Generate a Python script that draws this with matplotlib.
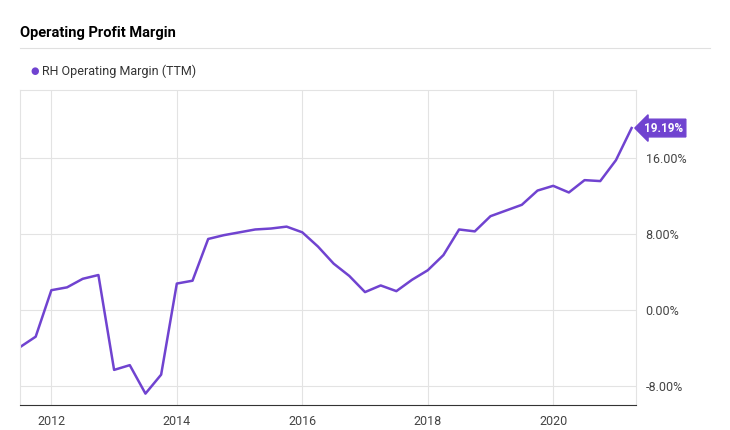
import matplotlib.pyplot as plt
import numpy as np

years = np.arange(40) * 0.25 + 2011.5
margin = [-3.9, -2.8, 2.1, 2.4, 3.3, 3.7, -6.3, -5.8, -8.8, -6.8,
          2.8, 3.1, 7.5, 7.9, 8.2, 8.5, 8.6, 8.8, 8.2, 6.7,
          4.9, 3.6, 1.9, 2.6, 2.0, 3.2, 4.2, 5.8, 8.5, 8.3,
          9.9, 10.5, 11.1, 12.6, 13.1, 12.4, 13.7, 13.6, 15.8, 19.19]
yticks = [-8, 0, 8, 16]
xticks = [2012, 2014, 2016, 2018, 2020]
color = '#7043d0'

plt.rcParams['font.family'] = ['Roboto', 'DejaVu Sans']
fig = plt.figure(figsize=(7.3, 4.3), dpi=100)
W, H = 730, 430
ax = fig.add_axes([20/W, 25/H, 616/W, 315/H])
ax.plot(years, margin, color=color, lw=1.8)
ax.set_xlim(2011.5, 2021.32)
ax.set_ylim(-10.0, 23.2)
ax.yaxis.tick_right()
ax.set_yticks(yticks)
ax.set_yticklabels([f'{v:.2f}%' for v in yticks], fontsize=9, color='#444444')
ax.set_xticks(xticks)
ax.set_xticklabels([str(v) for v in xticks], fontsize=9, color='#444444')
ax.tick_params(length=0, pad=7)
ax.grid(True, color='#e3e3e3', lw=0.8)
for s in ['top', 'right', 'left']:
    ax.spines[s].set_color('#e3e3e3')
    ax.spines[s].set_linewidth(0.8)
ax.spines['bottom'].set_color('#333333')
ax.annotate(f'{margin[-1]:.2f}%', xy=(1.0, margin[-1]), xycoords=('axes fraction', 'data'),
            xytext=(6, 0), textcoords='offset points', va='center', ha='left',
            fontsize=8.5, fontweight='bold', color='white',
            bbox=dict(boxstyle='larrow,pad=0.2', fc=color, ec=color))

fig.text(20/W, 1 - 33/H, 'Operating Profit Margin', fontsize=10.5, fontweight='bold', va='center')
fig.add_artist(plt.Line2D([20/W, 710/W], [1 - 48/H, 1 - 48/H], color='#e0e0e0', lw=0.8))
fig.text(30/W, 1 - 71/H, '●', fontsize=7, color=color, va='center')
fig.text(42/W, 1 - 71/H, 'RH Operating Margin (TTM)', fontsize=9, color='#333333', va='center')
fig.savefig('out.png', dpi=100)
